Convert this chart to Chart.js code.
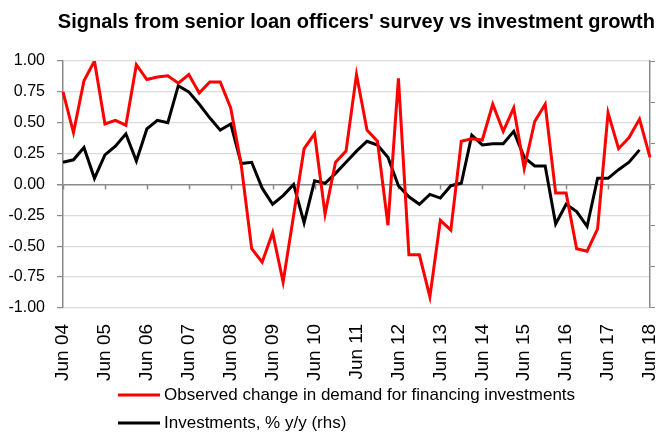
<!DOCTYPE html>
<html>
<head>
<meta charset="utf-8">
<script src="https://cdn.jsdelivr.net/npm/chart.js@4.4.1/dist/chart.umd.min.js"></script>
<style>
  html, body { margin: 0; padding: 0; background: #fff; }
</style>
</head>
<body>
<canvas id="loanChart" width="665" height="435"></canvas>
<script>
// quarterly observations, Jun 04 .. Jun 18
const quarters = [
    'Jun 04', 'Sep 04', 'Dec 04',
    'Mar 05', 'Jun 05', 'Sep 05', 'Dec 05',
    'Mar 06', 'Jun 06', 'Sep 06', 'Dec 06',
    'Mar 07', 'Jun 07', 'Sep 07', 'Dec 07',
    'Mar 08', 'Jun 08', 'Sep 08', 'Dec 08',
    'Mar 09', 'Jun 09', 'Sep 09', 'Dec 09',
    'Mar 10', 'Jun 10', 'Sep 10', 'Dec 10',
    'Mar 11', 'Jun 11', 'Sep 11', 'Dec 11',
    'Mar 12', 'Jun 12', 'Sep 12', 'Dec 12',
    'Mar 13', 'Jun 13', 'Sep 13', 'Dec 13',
    'Mar 14', 'Jun 14', 'Sep 14', 'Dec 14',
    'Mar 15', 'Jun 15', 'Sep 15', 'Dec 15',
    'Mar 16', 'Jun 16', 'Sep 16', 'Dec 16',
    'Mar 17', 'Jun 17', 'Sep 17', 'Dec 17',
    'Mar 18', 'Jun 18'
];

// observed change in demand for financing investments (lhs)
const demandChange = [
    0.75, 0.42, 0.84, 1.00, 0.49, 0.52, 0.48, 0.97, 0.85, 0.87,
    0.88, 0.82, 0.89, 0.74, 0.83, 0.83, 0.62, 0.16, -0.52, -0.63,
    -0.39, -0.79, -0.25, 0.29, 0.41, -0.24, 0.18, 0.27, 0.89, 0.44,
    0.35, -0.33, 0.86, -0.57, -0.57, -0.91, -0.29, -0.37, 0.35, 0.37,
    0.36, 0.65, 0.43, 0.62, 0.13, 0.51, 0.65, -0.07, -0.07, -0.52,
    -0.54, -0.36, 0.58, 0.29, 0.38, 0.53, 0.22
];

// investments, % y/y (rhs)
const investmentGrowth = [
    5.4, 6.0, 9.0, 1.5, 7.2, 9.3, 12.3, 5.7, 13.5, 15.6,
    15.0, 24.0, 22.5, 19.5, 16.2, 13.2, 14.7, 5.1, 5.4, -0.9,
    -4.8, -2.7, 0.0, -9.3, 0.9, 0.3, 2.7, 5.4, 8.1, 10.5,
    9.6, 6.6, -0.3, -3.0, -4.8, -2.4, -3.3, -0.3, 0.3, 12.0,
    9.6, 9.9, 9.9, 12.9, 6.6, 4.5, 4.5, -9.6, -4.8, -6.6,
    -10.2, 1.5, 1.5, 3.6, 5.4, 8.4, null
];

const seriesNames = [
    'Observed change in demand for financing investments',
    'Investments, % y/y (rhs)'
];

const fontFamily = "'Liberation Sans', Arial, sans-serif";
Chart.defaults.font.family = fontFamily;
Chart.defaults.color = '#000';

// small ticks on the zero line every 4 quarters
const zeroTicks = {
    id: 'zeroTicks',
    beforeDatasetsDraw(chart) {
        const c = chart.ctx;
        const xs = chart.scales.x;
        const y0 = chart.scales.y.getPixelForValue(0);
        c.save();
        c.strokeStyle = '#8a8a8a';
        c.lineWidth = 1.5;
        quarters.forEach((q, i) => {
            if (i % 4 !== 0) return;
            const x = Math.round(xs.getPixelForValue(i)) + 0.5;
            c.beginPath();
            c.moveTo(x, y0);
            c.lineTo(x, y0 + 5);
            c.stroke();
        });
        c.restore();
    }
};

// legend drawn as two left aligned rows
const rowLegend = {
    id: 'rowLegend',
    afterDraw(chart) {
        const c = chart.ctx;
        c.save();
        chart.data.datasets.forEach((ds, i) => {
            const y = 395 + i * 28;
            c.strokeStyle = ds.borderColor;
            c.lineWidth = 3;
            c.beginPath();
            c.moveTo(118, y);
            c.lineTo(160, y);
            c.stroke();
            c.fillStyle = '#000';
            c.font = '17px ' + fontFamily;
            c.textBaseline = 'middle';
            c.fillText(ds.label, 164, y);
        });
        c.restore();
    }
};

const ctx = document.getElementById('loanChart').getContext('2d');

const loanChart = new Chart(ctx, {
    type: 'line',
    data: {
        labels: quarters,
        datasets: [{
            label: seriesNames[0],
            data: demandChange,
            borderColor: '#ff0000',
            borderWidth: 3,
            pointRadius: 0,
            yAxisID: 'y'
        }, {
            label: seriesNames[1],
            data: investmentGrowth,
            borderColor: '#000000',
            borderWidth: 3,
            pointRadius: 0,
            yAxisID: 'y2'
        }]
    },
    options: {
        responsive: false,
        animation: false,
        layout: {
            padding: { left: 8, right: 10, top: 0, bottom: 46 }
        },
        plugins: {
            legend: { display: false },
            tooltip: { enabled: false },
            title: {
                display: true,
                text: "Signals from senior loan officers' survey vs investment growth",
                align: 'end',
                color: '#000',
                font: { size: 20, weight: 'bold' },
                padding: { top: 10, bottom: 27 }
            }
        },
        scales: {
            x: {
                offset: false,
                grid: { display: false },
                border: { display: false },
                ticks: {
                    autoSkip: false,
                    maxRotation: 90,
                    minRotation: 90,
                    padding: 8,
                    font: { size: 19 },
                    callback: function (val, idx) {
                        return idx % 4 === 0 ? quarters[idx] : '';
                    }
                },
                afterFit: s => { s.paddingLeft = 0; s.paddingRight = 0; }
            },
            y: {
                position: 'left',
                min: -1,
                max: 1,
                ticks: {
                    stepSize: 0.25,
                    padding: 12,
                    font: { size: 16 },
                    callback: v => v.toFixed(2)
                },
                grid: {
                    color: c => c.tick && c.tick.value === 0 ? '#8a8a8a' : '#dcdcdc',
                    lineWidth: c => c.tick && c.tick.value === 0 ? 1.5 : 1.2,
                    tickLength: 6,
                    tickColor: '#8a8a8a'
                },
                border: { color: '#8a8a8a', width: 1.5 },
                afterFit: s => { s.width = 55; }
            },
            y2: {
                position: 'right',
                min: -30,
                max: 30,
                ticks: { stepSize: 10, display: false },
                grid: {
                    drawOnChartArea: false,
                    tickLength: 5,
                    tickColor: '#8a8a8a'
                },
                border: { color: '#8a8a8a', width: 1.5 }
            }
        }
    },
    plugins: [zeroTicks, rowLegend]
});
</script>
</body>
</html>
